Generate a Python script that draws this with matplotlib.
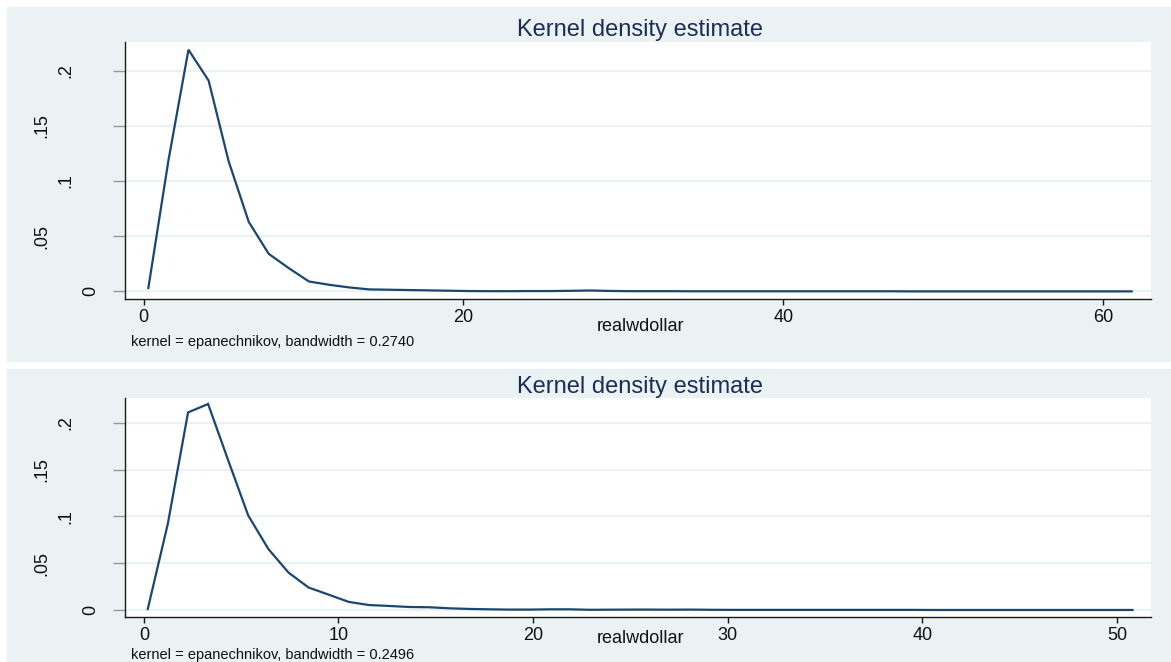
#!/usr/bin/env python3
"""Two stacked kernel density plots of realwdollar (Stata s2color look)."""

import matplotlib
matplotlib.use("Agg")
import matplotlib.pyplot as plt
from matplotlib.patches import Rectangle
from matplotlib.transforms import blended_transform_factory

# --- data (50 evaluation points each) ---
top_x = [0.29, 1.55, 2.80, 4.06, 5.31, 6.57, 7.82, 9.08, 10.33, 11.59,
         12.84, 14.10, 15.35, 16.61, 17.86, 19.12, 20.37, 21.63, 22.88, 24.14,
         25.39, 26.65, 27.90, 29.16, 30.41, 31.67, 32.92, 34.18, 35.43, 36.69,
         37.94, 39.20, 40.45, 41.71, 42.96, 44.22, 45.47, 46.73, 47.98, 49.24,
         50.49, 51.75, 53.00, 54.26, 55.51, 56.77, 58.02, 59.28, 60.53, 61.79]
top_y = [0.003, 0.119, 0.219, 0.191, 0.118, 0.063, 0.034, 0.021, 0.009, 0.006,
         0.0036, 0.0018, 0.0015, 0.0012, 0.0009, 0.0006, 0.0003, 0.0002, 0.0002, 0.0003,
         0.0003, 0.0005, 0.0008, 0.0004, 0.0002, 0.0002, 0.0002, 0.0001, 0.0001, 0.0001,
         0.0001, 0.0001, 0.0001, 0.0001, 0.0001, 0.0001, 0.0001, 0.0001, 0.0, 0.0,
         0.0, 0.0, 0.0, 0.0, 0.0, 0.0, 0.0, 0.0, 0.0, 0.0]

bot_x = [0.20, 1.23, 2.27, 3.30, 4.33, 5.36, 6.40, 7.43, 8.46, 9.49,
         10.53, 11.56, 12.59, 13.63, 14.66, 15.69, 16.72, 17.76, 18.79, 19.82,
         20.85, 21.89, 22.92, 23.95, 24.98, 26.02, 27.05, 28.08, 29.12, 30.15,
         31.18, 32.21, 33.25, 34.28, 35.31, 36.34, 37.38, 38.41, 39.44, 40.48,
         41.51, 42.54, 43.57, 44.61, 45.64, 46.67, 47.70, 48.74, 49.77, 50.80]
bot_y = [0.001, 0.092, 0.211, 0.220, 0.160, 0.101, 0.065, 0.040, 0.024, 0.0164,
         0.0086, 0.0053, 0.0043, 0.0032, 0.0029, 0.0018, 0.0011, 0.0007, 0.0004, 0.0004,
         0.0007, 0.0007, 0.0002, 0.0003, 0.0004, 0.0004, 0.0003, 0.0004, 0.0002, 0.0001,
         0.0001, 0.0001, 0.0001, 0.0001, 0.0001, 0.0001, 0.0001, 0.0001, 0.0001, 0.0,
         0.0, 0.0, 0.0, 0.0, 0.0, 0.0, 0.0, 0.0, 0.0, 0.0]

yticks = [0, 0.05, 0.1, 0.15, 0.2]
ytick_labels = ["0", ".05", ".1", ".15", ".2"]
top_xticks = [0, 20, 40, 60]
bot_xticks = [0, 10, 20, 30, 40, 50]

title = "Kernel density estimate"
xlabel = "realwdollar"
top_note = "kernel = epanechnikov, bandwidth = 0.2740"
bot_note = "kernel = epanechnikov, bandwidth = 0.2496"

W, H = 1171, 662
BG = "#EAF2F3"
LINE = "#1A476F"
TITLE_C = "#1E2D55"
FONT = "Liberation Sans"


def fx(px):
    return px / W


def fy(py):
    return 1 - py / H


def panel(fig, box, ax_box, x, y, xticks, xlim, ylim, note, ys):
    """box / ax_box in pixel coords (left, top, right, bottom); ys = text baselines."""
    l, t, r, b = box
    fig.patches.append(Rectangle((fx(l), fy(b)), fx(r - l), (b - t) / H,
                                 transform=fig.transFigure, color=BG, zorder=-5))
    l, t, r, b = ax_box
    ax = fig.add_axes([fx(l), fy(b), fx(r - l), (b - t) / H], zorder=2)
    ax.set_facecolor("white")
    ax.plot(x, y, color=LINE, lw=1.6, solid_joinstyle="miter")
    ax.set_xlim(*xlim)
    ax.set_ylim(*ylim)

    for s in ("top", "right"):
        ax.spines[s].set_visible(False)
    for s in ("left", "bottom"):
        ax.spines[s].set_color("#1a1a1a")
        ax.spines[s].set_linewidth(1.0)

    ax.set_yticks(yticks)
    ax.set_yticklabels([])
    ax.tick_params(axis="y", length=9, width=1.0, color="#9a9a9a")
    ax.grid(axis="y", color=BG, lw=1.6)
    ax.set_axisbelow(True)

    ax.set_xticks(xticks)
    ax.set_xticklabels([str(v) for v in xticks], fontsize=13, family=FONT,
                       color="#111111")
    ax.tick_params(axis="x", length=4, width=1.0, color="#1a1a1a", pad=3)

    # rotated y labels; Stata shifts longer labels further left
    tr = blended_transform_factory(fig.transFigure, ax.transData)
    for v, lab in zip(yticks, ytick_labels):
        cx = 90.5 - 24.5 * (len(lab) - 1)
        ax.text(fx(cx), v, lab, transform=tr, rotation=90, ha="center",
                va="center", fontsize=13, family=FONT, color="#111111",
                clip_on=False)

    t_base, xl_base, n_base = ys
    cx = (ax_box[0] + ax_box[2]) / 2
    fig.text(fx(cx + 2), fy(t_base), title, ha="center", va="baseline",
             fontsize=17, family=FONT, color=TITLE_C)
    fig.text(fx(cx + 2), fy(xl_base), xlabel, ha="center", va="baseline",
             fontsize=13, family=FONT, color="#111111")
    fig.text(fx(131), fy(n_base), note, ha="left", va="baseline",
             fontsize=10.5, family=FONT, color="#111111")
    return ax


def main():
    fig = plt.figure(figsize=(W / 100, H / 100), dpi=100)
    fig.patch.set_facecolor("white")

    panel(fig, (7, 7, W, 361), (125, 42, 1151, 299),
          top_x, top_y, top_xticks, (-1.17, 63.0), (-0.0069, 0.226),
          top_note, (36, 331, 346))
    panel(fig, (7, 369, W, H), (125, 398, 1151, 617),
          bot_x, bot_y, bot_xticks, (-0.97, 51.75), (-0.0075, 0.2264),
          bot_note, (393, 643, 659))

    fig.savefig("out.png", dpi=100, facecolor=fig.get_facecolor())
    plt.close(fig)


if __name__ == "__main__":
    main()
